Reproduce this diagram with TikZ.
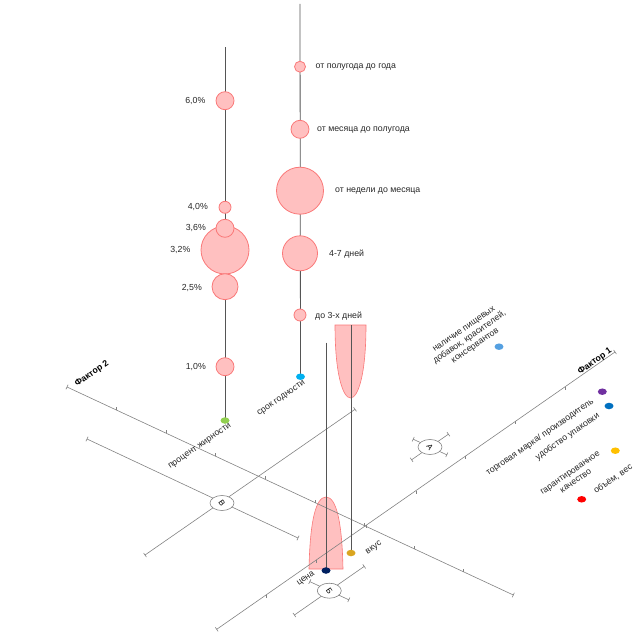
\documentclass[tikz,border=0pt]{standalone}
\usepackage{fontspec}
\setmainfont{Liberation Sans}
\usetikzlibrary{calc,shapes.geometric}
\definecolor{axisgray}{RGB}{130,130,130}
\definecolor{stemgray}{RGB}{85,85,85}
\definecolor{bubfill}{RGB}{255,192,192}
\definecolor{bubdraw}{RGB}{250,120,120}
\definecolor{dgreen}{RGB}{146,208,80}
\definecolor{dcyan}{RGB}{0,176,240}
\definecolor{dnavy}{RGB}{0,32,96}
\definecolor{dgold}{RGB}{218,165,32}
\definecolor{dlblue}{RGB}{85,160,225}
\definecolor{dpurple}{RGB}{112,48,160}
\definecolor{dblue}{RGB}{0,112,192}
\definecolor{dyellow}{RGB}{255,192,0}
\definecolor{dred}{RGB}{255,0,0}
\begin{document}
\begin{tikzpicture}[x=1bp,y=-1bp,
  axisline/.style={draw=axisgray,line width=0.6bp},
  stemline/.style={draw=stemgray,line width=0.8bp},
  bubble/.style={circle,fill=bubfill,draw=bubdraw,line width=0.8bp,inner sep=0,minimum size=#1},
  cone/.style={fill=bubfill,draw=bubdraw,line width=0.6bp},
  dot/.style={ellipse,fill=#1,draw=none,minimum width=9bp,minimum height=6.5bp,inner sep=0},
  lbl/.style={font=\fontsize{8.8}{10}\selectfont,text=black!85,inner sep=0},
  rlbl/.style={lbl,rotate=34.7,align=center},
  factor/.style={font=\bfseries\fontsize{8.8}{10}\selectfont,inner sep=0,rotate=34.7},
  marker/.style={ellipse,draw=axisgray,fill=white,line width=0.6bp,minimum width=24bp,minimum height=15bp,inner sep=0,font=\fontsize{8}{9}\selectfont}
]
\useasboundingbox (0,0) rectangle (642,642);
% ---------- named points ----------
\coordinate (F1a) at (216.7,629.3);
\coordinate (F1b) at (615,352);
\coordinate (F2a) at (67,387);
\coordinate (F2b) at (513.3,595);
\coordinate (B1a) at (145,555);
\coordinate (B1b) at (355,409.3);
\coordinate (B2a) at (87,439);
\coordinate (B2b) at (298,538);
\coordinate (A1a) at (411.6,459.8);
\coordinate (A1b) at (448.4,434.2);
\coordinate (A2a) at (413.2,439.2);
\coordinate (A2b) at (446.8,454.8);
\coordinate (C1a) at (294.4,615);
\coordinate (C1b) at (364.2,566.4);
\coordinate (C2a) at (309.8,581.6);
\coordinate (C2b) at (348.8,599.8);
% ---------- cones ----------
\path[cone] (335,325) -- (366,325) .. controls (366,375) and (358,398) .. (350.5,398)
  .. controls (343,398) and (335,375) .. (335,325) -- cycle;
\path[cone] (309,569) .. controls (310,520) and (316,497) .. (326,497)
  .. controls (336,497) and (342,520) .. (343,569) -- cycle;
% ---------- axes ----------
\draw[axisline] (F1a) -- (F1b);
\draw[axisline] (F2a) -- (F2b);
\foreach \k in {1,...,7} \draw[axisline] ($(F1a)!\k/8!(F1b)$) -- ++(0,3);
\foreach \k in {1,...,8} \draw[axisline] ($(F2a)!\k/9!(F2b)$) -- ++(0,-3);
\draw[axisline] (B1a) -- (B1b);
\draw[axisline] (B2a) -- (B2b);
\draw[axisline] (A1a) -- (A1b);
\draw[axisline] (A2a) -- (A2b);
\draw[axisline] (C1a) -- (C1b);
\draw[axisline] (C2a) -- (C2b);
\foreach \p/\q in {F1a/F1b,F1b/F1a,F2a/F2b,F2b/F2a,B1a/B1b,B1b/B1a,B2a/B2b,B2b/B2a,A1a/A1b,A1b/A1a,A2a/A2b,A2b/A2a,C1a/C1b,C1b/C1a,C2a/C2b,C2b/C2a}
  \draw[axisline] ($(\p)!2.5bp!90:(\q)$) -- ($(\p)!2.5bp!-90:(\q)$);
% ---------- markers ----------
\node[marker] (mA) at (430,447) {\rotatebox{-55}{А}};
\node[marker] (mB) at (222,503) {\rotatebox{-55}{В}};
\node[marker] (mC) at (329.3,590.7) {\rotatebox{-55}{Б}};
% ---------- stems ----------
\coordinate (L0) at (225,47.5);
\coordinate (R0) at (300,4);
\coordinate (P0) at (326,342.7);
\coordinate (T0) at (351,325);
\coordinate (gLc) at (225,420.5);
\coordinate (gRc) at (300.5,376.7);
\coordinate (gPc) at (326,570.5);
\coordinate (gTc) at (351,553);
\draw[stemline] (L0) -- (gLc);
\draw[stemline] (R0) -- (gRc);
\draw[stemline] (P0) -- (gPc);
\draw[stemline] (T0) -- (gTc);
\node[dot=dgreen] (gL) at (gLc) {};
\node[dot=dcyan] (gR) at (gRc) {};
\node[dot=dnavy] (gP) at (gPc) {};
\node[dot=dgold] (gT) at (gTc) {};
% ---------- left bubbles ----------
\node[bubble=18bp] (l60) at (225,100.7) {};
\node[bubble=12bp] (l40) at (225,207.3) {};
\node[bubble=48bp] (l32) at (225,250) {};
\node[bubble=18bp] (l36) at (225,228.3) {};
\node[bubble=26bp] (l25) at (225,286.7) {};
\node[bubble=18bp] (l10) at (225,366.7) {};
\node[lbl,anchor=east] (t60) at (205.5,100.7) {6,0\%};
\node[lbl,anchor=east] (t40) at (208,207.3) {4,0\%};
\node[lbl,anchor=east] (t36) at (206,228.3) {3,6\%};
\node[lbl,anchor=east] (t32) at (190.5,250) {3,2\%};
\node[lbl,anchor=east] (t25) at (202,288) {2,5\%};
\node[lbl,anchor=east] (t10) at (206,367) {1,0\%};
% ---------- right bubbles ----------
\node[bubble=11bp] (r1) at (300,66.7) {};
\node[bubble=18bp] (r2) at (300,129.3) {};
\node[bubble=47bp] (r3) at (300,190.7) {};
\node[bubble=35bp] (r4) at (300,253.3) {};
\node[bubble=12bp] (r5) at (300,315) {};
\node[lbl,anchor=west] (s1) at (315.5,67.5) {от полугода до года};
\node[lbl,anchor=west] (s2) at (317,130) {от месяца до полугода};
\node[lbl,anchor=west] (s3) at (335,191.5) {от недели до месяца};
\node[lbl,anchor=west] (s4) at (329,254) {4-7 дней};
\node[lbl,anchor=west] (s5) at (315,316) {до 3-х дней};
% ---------- axis-side labels ----------
\node[rlbl] (xL) at (200,446.5) {процент жирности};
\node[rlbl] (xR) at (281.5,398.5) {срок годности};
\node[rlbl] (xP) at (306,579) {цена};
\node[rlbl] (xT) at (374,548) {вкус};
\node[factor] (f2) at (92,374) {Фактор 2};
\node[factor] (f1) at (595,361.5) {Фактор 1};
% ---------- factor 1 attributes ----------
\node[rlbl] (a1) at (470,338) {наличие пищевых\\добавок, красителей,\\консервантов};
\node[dot=dlblue] (d1) at (499,346.7) {};
\node[rlbl] (a2) at (540,437.5) {торговая марка/ производитель};
\node[dot=dpurple] (d2) at (602.3,391.7) {};
\node[rlbl] (a3) at (567.5,436.7) {удобство упаковки};
\node[dot=dblue] (d3) at (609,406) {};
\node[rlbl] (a4) at (573,477) {гарантированное\\качество};
\node[dot=dyellow] (d4) at (615.3,450.7) {};
\node[rlbl] (a5) at (613,479) {объём, вес};
\node[dot=dred] (d5) at (581.7,499.3) {};
\end{tikzpicture}
\end{document}
